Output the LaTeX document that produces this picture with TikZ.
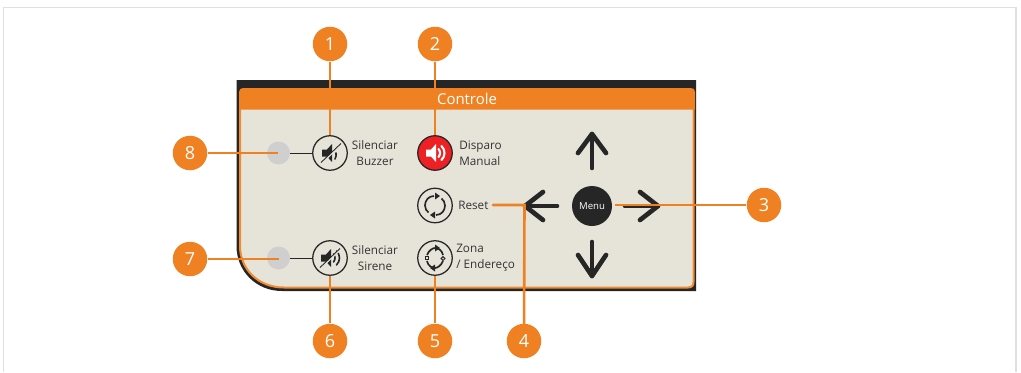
\documentclass[tikz,border=0pt]{standalone}
\usepackage{fontspec}
\setmainfont{Open Sans}
\definecolor{org}{HTML}{EF8122}
\definecolor{orgl}{HTML}{F08A33}
\definecolor{panel}{HTML}{E6E4D9}
\definecolor{dk}{HTML}{262626}
\definecolor{redb}{HTML}{ED2024}
\definecolor{led}{HTML}{CFCFCF}
\definecolor{txt}{HTML}{333333}
\tikzset{
  callout/.style={circle,fill=org,text=white,minimum size=34.5*0.75pt,inner sep=0pt,font=\fontsize{13.5}{14}\selectfont},
  btn/.style={circle,draw=dk,line width=0.95pt,fill=panel,minimum size=34.5*0.75pt,inner sep=0pt},
  redbtn/.style={btn,fill=redb},
  ledn/.style={circle,fill=led,minimum size=23*0.75pt,inner sep=0pt},
  lbl/.style={text=txt,font=\fontsize{8.8}{12}\selectfont,inner sep=0pt},
  lead/.style={draw=org,line width=1.95pt},
  thin link/.style={draw=dk,line width=0.6pt},
  nav/.style={draw=dk,line width=3.5pt,line cap=round,line join=round},
}
\newcommand{\spkbody}[1]{\fill[#1] (-9,-3.5) -- (-4,-3.5) -- (1,-9) -- (1,9) -- (-4,3.5) -- (-9,3.5) -- cycle;}
\newcommand{\spkwaves}[2]{%
  \draw[#1,line width=#2,line cap=round] (3.5,-4) .. controls (5.5,-2) and (5.5,2) .. (3.5,4);
  \draw[#1,line width=#2,line cap=round] (6.5,-7) .. controls (10.5,-3) and (10.5,3) .. (6.5,7);}
\begin{document}
\begin{tikzpicture}[x=0.75pt,y=-0.75pt]
\useasboundingbox (0,0) rectangle (1021,372);
\fill[white] (0,0) rectangle (1021,372);
% frame
\draw[draw=black!12,line width=1.3pt] (3.5,372) -- (3.5,7.5) -- (1016,7.5) -- (1016,372);
% panel
\fill[dk] (236.5,80) -- (696,80) -- (696,291) -- (282,291) .. controls (256,291) and (236.5,271) .. (236.5,246) -- cycle;
\filldraw[draw=orgl,fill=panel,line width=1.5pt] (240,100) -- (693.5,100) -- (693.5,282) .. controls (693.5,285.5) and (692,287.5) .. (688,287.5) -- (284,287.5) .. controls (258,287.5) and (240,269) .. (240,246) -- cycle;
\fill[org] (239,109.5) -- (239,92) .. controls (239,89.5) and (241,88) .. (243,88) -- (691,88) .. controls (693.5,88) and (695,89.5) .. (695,92) -- (695,109.5) -- cycle;
\node[text=white,font=\fontsize{11.2}{13}\selectfont,inner sep=0pt] (title) at (467,99) {Controle};
% LEDs and buttons
\node[ledn] (led8) at (278.5,153) {};
\node[ledn] (led7) at (278.5,258) {};
\node[btn] (buzzer) at (330,153) {};
\node[btn] (sirene) at (330,258) {};
\node[redbtn] (disparo) at (435,153) {};
\node[btn] (reset) at (435,205.5) {};
\node[btn] (zona) at (435,258) {};
\draw[thin link] (led8) -- (buzzer);
\draw[thin link] (led7) -- (sirene);
% icon: buzzer
\begin{scope}[shift={(331,153)}]
  \spkbody{dk}
  \draw[dk,line width=1.2pt,line cap=round] (4,6) .. controls (5,4) and (5.5,2) .. (5,0);
  \draw[panel,line width=1.3pt] (-10.5,11) -- (10.5,-8.5);
  \draw[dk,line width=0.65pt] (-10,9.5) -- (10,-9.5);
\end{scope}
% icon: sirene
\begin{scope}[shift={(330,258)}]
  \spkbody{dk}
  \spkwaves{dk}{1.2pt}
  \draw[panel,line width=1.3pt] (-10.5,11) -- (10.5,-8.5);
  \draw[dk,line width=0.65pt] (-10,9.5) -- (10,-9.5);
\end{scope}
% icon: disparo
\begin{scope}[shift={(435,153)}]
  \spkbody{white}
  \spkwaves{white}{1.6pt}
\end{scope}
% icon: reset
\begin{scope}[shift={(435,205.5)}]
  \draw[dk,line width=1.25pt] (-1,-9.5) .. controls (-6.5,-9.5) and (-10,-5) .. (-10,0) .. controls (-10,3) and (-8.5,5.5) .. (-6.5,7);
  \draw[dk,line width=1.25pt] (1,9.5) .. controls (6.5,9.5) and (10,5) .. (10,0) .. controls (10,-3) and (8.5,-5.5) .. (6.5,-7);
  \fill[dk] (0,-13) -- (5,-9.5) -- (0,-6) -- cycle;
  \fill[dk] (0,13) -- (-5,9.5) -- (0,6) -- cycle;
\end{scope}
% icon: zona
\begin{scope}[shift={(435,258)}]
  \draw[dk,line width=1.25pt] (-8,-3) .. controls (-6,-8) and (-2,-10) .. (0,-10) .. controls (3,-10) and (7,-8) .. (8,-3);
  \draw[dk,line width=1.25pt] (8,3) .. controls (6,8) and (2,10) .. (0,10) .. controls (-3,10) and (-7,8) .. (-8,3);
  \fill[dk] (0,-13.5) -- (5,-10) -- (0,-6.5) -- cycle;
  \fill[dk] (0,13.5) -- (-5,10) -- (0,6.5) -- cycle;
  \draw[dk,line width=0.7pt,fill=panel] (-10,-2) rectangle (-6.5,1.5);
  \draw[dk,line width=0.7pt,fill=panel] (8,0.5) circle (1.9);
\end{scope}
% labels
\node[lbl,align=center] (lb1) at (375,153) {Silenciar\\Buzzer};
\node[lbl,align=center] (lb6) at (375,258) {Silenciar\\Sirene};
\node[lbl,align=left,anchor=west] (lb2) at (459,153) {Disparo\\Manual};
\node[lbl,anchor=west] (lb4) at (458,205) {Reset};
\node[lbl,align=left,anchor=west] (lb5) at (456,258) {Zona\\/ Endereço};
% navigation
\node[circle,fill=dk,minimum size=40*0.75pt,inner sep=0pt,text=white,font=\fontsize{7.2}{8}\selectfont] (menu) at (592,206) {Menu};
\coordinate (upt) at (592,134);   \coordinate (upb) at (592,168);
\coordinate (dnt) at (592,242);   \coordinate (dnb) at (592,276);
\coordinate (lft) at (525,206);   \coordinate (lfe) at (557,206);
\coordinate (rgt) at (658,206);   \coordinate (rge) at (625,206);
\draw[nav] (upb) -- (upt);
\draw[nav] (578,153) -- (upt) -- (606,153);
\draw[nav] (dnt) -- (dnb);
\draw[nav] (578,255) -- (dnb) -- (606,255);
\draw[nav] (lfe) -- (lft);
\draw[nav] (543,192) -- (lft) -- (543,220);
\draw[nav] (rge) -- (rgt);
\draw[nav] (640,192) -- (rgt) -- (640,220);
% callouts
\node[callout] (c1) at (330,44) {1};
\node[callout] (c2) at (435,44) {2};
\node[callout] (c3) at (764,205) {3};
\node[callout] (c4) at (524,341) {4};
\node[callout] (c5) at (435,341) {5};
\node[callout] (c6) at (330,341) {6};
\node[callout] (c7) at (190,259) {7};
\node[callout] (c8) at (190,153) {8};
\coordinate (e3) at (615,205);
\coordinate (e4) at (493,205);
\coordinate (k4) at (524.5,205);
\coordinate (e7) at (278,258);
\coordinate (e8) at (278,153);
\draw[lead] (c1) -- (buzzer.north);
\draw[lead] (c2) -- (disparo.north);
\draw[lead] (c3) -- (e3);
\draw[lead,line cap=round,line join=miter] (c4) -- (k4) -- (e4);
\draw[lead] (c5) -- (zona.south);
\draw[lead] (c6) -- (sirene.south);
\draw[lead] (c7) -- (c7 -| e7) -- (e7);
\draw[lead] (c8) -- (e8);
\end{tikzpicture}
\end{document}
